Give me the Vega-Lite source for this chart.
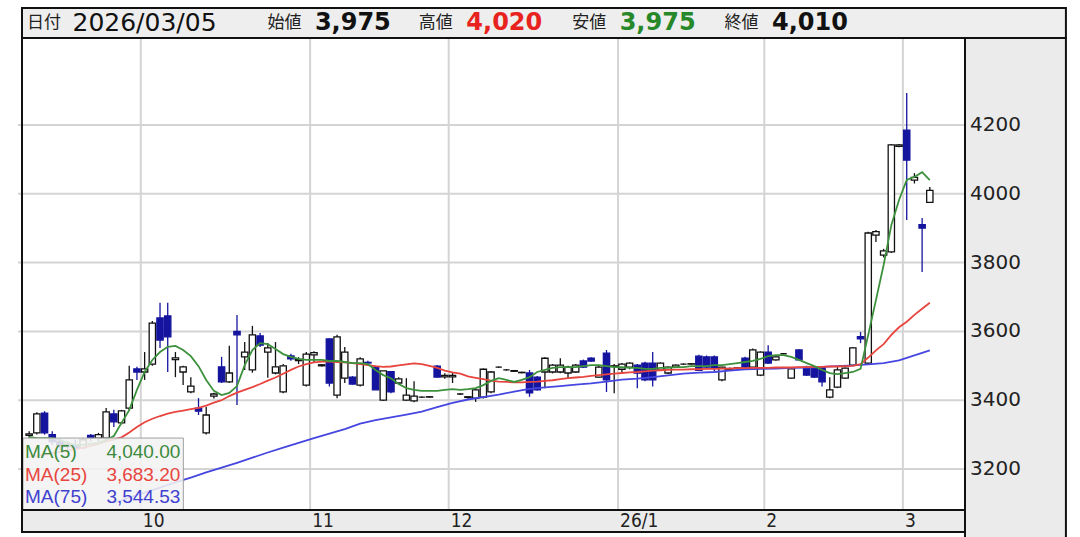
{
"$schema":"https://vega.github.io/schema/vega-lite/v6.json",
"width":952,"height":472,
"autosize":{"type":"none"},
"padding":{"left":18,"top":38,"right":110,"bottom":27},
"background":"white",
"config":{"view":{"stroke":null}},
"datasets":{
"k":[
{"i":-15,"o":3298,"h":3310,"l":3290,"c":3302,"m5":3293,"m25":3235},
{"i":-14,"o":3305,"h":3365,"l":3300,"c":3360,"m5":3290,"m25":3238},
{"i":-13,"o":3362,"h":3368,"l":3300,"c":3305,"m5":3290,"m25":3242},
{"i":-12,"o":3300,"h":3310,"l":3270,"c":3280,"m5":3290,"m25":3246},
{"i":-11,"o":3280,"h":3290,"l":3255,"c":3265,"m5":3284,"m25":3250},
{"i":-10,"o":3265,"h":3280,"l":3250,"c":3272,"m5":3276,"m25":3254},
{"i":-9,"o":3270,"h":3285,"l":3255,"c":3262,"m5":3270,"m25":3258},
{"i":-8,"o":3262,"h":3290,"l":3258,"c":3285,"m5":3270,"m25":3262},
{"i":-7,"o":3298,"h":3302,"l":3280,"c":3290,"m5":3273,"m25":3267},
{"i":-6,"o":3290,"h":3305,"l":3280,"c":3300,"m5":3276,"m25":3273},
{"i":-5,"o":3290,"h":3377,"l":3285,"c":3366,"m5":3284,"m25":3280},
{"i":-4,"o":3360,"h":3372,"l":3322,"c":3337,"m5":3296,"m25":3286,"m75":3102},
{"i":-3,"o":3334,"h":3372,"l":3330,"c":3369,"m5":3334,"m25":3292},
{"i":-2,"o":3377,"h":3500,"l":3370,"c":3459,"m5":3371,"m25":3306,"m75":3117},
{"i":-1,"o":3491,"h":3497,"l":3459,"c":3482,"m5":3430,"m25":3322},
{"i":0,"o":3482,"h":3540,"l":3459,"c":3491,"m5":3482,"m25":3336,"m75":3131},
{"i":1,"o":3505,"h":3630,"l":3500,"c":3624,"m5":3517,"m25":3346},
{"i":2,"o":3639,"h":3683,"l":3552,"c":3575,"m5":3540,"m25":3354,"m75":3146},
{"i":3,"o":3645,"h":3683,"l":3482,"c":3584,"m5":3555,"m25":3361},
{"i":4,"o":3518,"h":3540,"l":3467,"c":3523,"m5":3558,"m25":3366,"m75":3161},
{"i":5,"o":3482,"h":3500,"l":3444,"c":3497,"m5":3546,"m25":3370},
{"i":6,"o":3424,"h":3467,"l":3420,"c":3441,"m5":3528,"m25":3374,"m75":3175},
{"i":7,"o":3377,"h":3406,"l":3357,"c":3368,"m5":3499,"m25":3378},
{"i":8,"o":3305,"h":3380,"l":3300,"c":3357,"m5":3459,"m25":3384,"m75":3190},
{"i":9,"o":3412,"h":3422,"l":3405,"c":3418,"m5":3427,"m25":3393},
{"i":10,"o":3497,"h":3526,"l":3450,"c":3453,"m5":3415,"m25":3400,"m75":3204},
{"i":11,"o":3453,"h":3558,"l":3450,"c":3479,"m5":3421,"m25":3412},
{"i":12,"o":3600,"h":3648,"l":3386,"c":3590,"m5":3441,"m25":3422,"m75":3218},
{"i":13,"o":3526,"h":3569,"l":3488,"c":3540,"m5":3502,"m25":3430},
{"i":14,"o":3488,"h":3616,"l":3480,"c":3590,"m5":3546,"m25":3438,"m75":3233},
{"i":15,"o":3587,"h":3595,"l":3555,"c":3560,"m5":3566,"m25":3447},
{"i":16,"o":3540,"h":3566,"l":3465,"c":3552,"m5":3563,"m25":3457,"m75":3248},
{"i":17,"o":3479,"h":3569,"l":3475,"c":3497,"m5":3549,"m25":3466},
{"i":18,"o":3424,"h":3505,"l":3420,"c":3500,"m5":3534,"m25":3477,"m75":3262},
{"i":19,"o":3529,"h":3535,"l":3515,"c":3520,"m5":3526,"m25":3488},
{"i":20,"o":3515,"h":3525,"l":3505,"c":3518,"m5":3520,"m25":3498,"m75":3276},
{"i":21,"o":3444,"h":3540,"l":3440,"c":3534,"m5":3517,"m25":3505},
{"i":22,"o":3532,"h":3542,"l":3510,"c":3538,"m5":3517,"m25":3510,"m75":3290},
{"i":23,"o":3500,"h":3505,"l":3498,"c":3503,"m5":3517,"m25":3512},
{"i":24,"o":3578,"h":3580,"l":3440,"c":3450,"m5":3514,"m25":3512,"m75":3303},
{"i":25,"o":3415,"h":3590,"l":3406,"c":3584,"m5":3514,"m25":3511},
{"i":26,"o":3464,"h":3555,"l":3450,"c":3540,"m5":3511,"m25":3510,"m75":3316},
{"i":27,"o":3467,"h":3470,"l":3445,"c":3447,"m5":3508,"m25":3508},
{"i":28,"o":3444,"h":3525,"l":3440,"c":3520,"m5":3508,"m25":3505,"m75":3332},
{"i":29,"o":3510,"h":3515,"l":3505,"c":3508,"m5":3505,"m25":3502},
{"i":30,"o":3496,"h":3500,"l":3430,"c":3430,"m5":3488,"m25":3499,"m75":3342},
{"i":31,"o":3400,"h":3485,"l":3398,"c":3485,"m5":3473,"m25":3497},
{"i":32,"o":3483,"h":3485,"l":3420,"c":3424,"m5":3464,"m25":3498,"m75":3350},
{"i":33,"o":3450,"h":3467,"l":3445,"c":3462,"m5":3447,"m25":3501},
{"i":34,"o":3400,"h":3464,"l":3398,"c":3415,"m5":3435,"m25":3504,"m75":3358},
{"i":35,"o":3398,"h":3455,"l":3394,"c":3412,"m5":3430,"m25":3507},
{"i":36,"o":3409,"h":3411,"l":3407,"c":3409,"m5":3427,"m25":3505,"m75":3367},
{"i":37,"o":3409,"h":3411,"l":3407,"c":3410,"m5":3427,"m25":3500},
{"i":38,"o":3499,"h":3502,"l":3466,"c":3467,"m5":3427,"m25":3494,"m75":3380},
{"i":39,"o":3468,"h":3478,"l":3462,"c":3472,"m5":3430,"m25":3486},
{"i":40,"o":3468,"h":3482,"l":3450,"c":3472,"m5":3432,"m25":3481,"m75":3392},
{"i":41,"o":3418,"h":3420,"l":3416,"c":3418,"m5":3430,"m25":3477},
{"i":42,"o":3408,"h":3412,"l":3404,"c":3410,"m5":3432,"m25":3469,"m75":3402},
{"i":43,"o":3406,"h":3435,"l":3395,"c":3430,"m5":3435,"m25":3465},
{"i":44,"o":3409,"h":3492,"l":3405,"c":3490,"m5":3444,"m25":3461,"m75":3409},
{"i":45,"o":3424,"h":3485,"l":3420,"c":3482,"m5":3456,"m25":3457},
{"i":46,"o":3496,"h":3498,"l":3494,"c":3496,"m5":3464,"m25":3454,"m75":3416},
{"i":47,"o":3488,"h":3490,"l":3486,"c":3488,"m5":3459,"m25":3453},
{"i":48,"o":3484,"h":3488,"l":3482,"c":3486,"m5":3453,"m25":3452,"m75":3425},
{"i":49,"o":3480,"h":3483,"l":3478,"c":3481,"m5":3459,"m25":3452},
{"i":50,"o":3479,"h":3488,"l":3410,"c":3421,"m5":3467,"m25":3453,"m75":3433},
{"i":51,"o":3467,"h":3470,"l":3428,"c":3430,"m5":3482,"m25":3454},
{"i":52,"o":3482,"h":3525,"l":3435,"c":3522,"m5":3488,"m25":3456,"m75":3437},
{"i":53,"o":3482,"h":3505,"l":3478,"c":3502,"m5":3494,"m25":3458},
{"i":54,"o":3482,"h":3522,"l":3478,"c":3502,"m5":3496,"m25":3461,"m75":3441},
{"i":55,"o":3479,"h":3500,"l":3462,"c":3496,"m5":3496,"m25":3464},
{"i":56,"o":3482,"h":3505,"l":3480,"c":3502,"m5":3496,"m25":3466,"m75":3445},
{"i":57,"o":3514,"h":3518,"l":3494,"c":3496,"m5":3499,"m25":3468},
{"i":58,"o":3522,"h":3525,"l":3512,"c":3514,"m5":3502,"m25":3471,"m75":3449},
{"i":59,"o":3467,"h":3500,"l":3465,"c":3496,"m5":3502,"m25":3473},
{"i":60,"o":3537,"h":3546,"l":3424,"c":3459,"m5":3499,"m25":3475,"m75":3454},
{"i":61,"o":3498,"h":3505,"l":3420,"c":3500,"m5":3496,"m25":3477},
{"i":62,"o":3490,"h":3508,"l":3480,"c":3505,"m5":3496,"m25":3479,"m75":3460},
{"i":63,"o":3496,"h":3510,"l":3490,"c":3508,"m5":3494,"m25":3481},
{"i":64,"o":3502,"h":3505,"l":3435,"c":3479,"m5":3494,"m25":3482,"m75":3463},
{"i":65,"o":3508,"h":3512,"l":3455,"c":3459,"m5":3491,"m25":3484},
{"i":66,"o":3508,"h":3540,"l":3440,"c":3459,"m5":3491,"m25":3486,"m75":3467},
{"i":67,"o":3487,"h":3510,"l":3485,"c":3508,"m5":3494,"m25":3487},
{"i":68,"o":3479,"h":3498,"l":3476,"c":3496,"m5":3494,"m25":3488,"m75":3472},
{"i":69,"o":3496,"h":3504,"l":3494,"c":3502,"m5":3496,"m25":3489},
{"i":70,"o":3505,"h":3507,"l":3503,"c":3505,"m5":3496,"m25":3489,"m75":3477},
{"i":71,"o":3505,"h":3507,"l":3503,"c":3506,"m5":3499,"m25":3490},
{"i":72,"o":3528,"h":3532,"l":3485,"c":3487,"m5":3499,"m25":3490,"m75":3480},
{"i":73,"o":3526,"h":3530,"l":3490,"c":3496,"m5":3499,"m25":3491},
{"i":74,"o":3526,"h":3530,"l":3485,"c":3493,"m5":3502,"m25":3491,"m75":3482},
{"i":75,"o":3459,"h":3497,"l":3455,"c":3496,"m5":3502,"m25":3492},
{"i":76,"o":3490,"h":3495,"l":3486,"c":3492,"m5":3505,"m25":3492,"m75":3486},
{"i":77,"o":3492,"h":3496,"l":3488,"c":3494,"m5":3508,"m25":3493},
{"i":78,"o":3522,"h":3526,"l":3494,"c":3496,"m5":3511,"m25":3493,"m75":3490},
{"i":79,"o":3496,"h":3550,"l":3494,"c":3546,"m5":3514,"m25":3494},
{"i":80,"o":3473,"h":3542,"l":3470,"c":3540,"m5":3520,"m25":3494,"m75":3491},
{"i":81,"o":3540,"h":3560,"l":3505,"c":3508,"m5":3528,"m25":3494},
{"i":82,"o":3517,"h":3528,"l":3515,"c":3526,"m5":3531,"m25":3495,"m75":3492},
{"i":83,"o":3535,"h":3537,"l":3533,"c":3535,"m5":3531,"m25":3495},
{"i":84,"o":3464,"h":3495,"l":3462,"c":3491,"m5":3526,"m25":3495,"m75":3494},
{"i":85,"o":3546,"h":3548,"l":3515,"c":3517,"m5":3517,"m25":3496},
{"i":86,"o":3496,"h":3500,"l":3470,"c":3473,"m5":3508,"m25":3496,"m75":3495},
{"i":87,"o":3493,"h":3495,"l":3465,"c":3467,"m5":3499,"m25":3497},
{"i":88,"o":3496,"h":3498,"l":3440,"c":3453,"m5":3488,"m25":3497,"m75":3497},
{"i":89,"o":3409,"h":3467,"l":3406,"c":3430,"m5":3479,"m25":3498},
{"i":90,"o":3438,"h":3500,"l":3435,"c":3488,"m5":3476,"m25":3498,"m75":3499},
{"i":91,"o":3464,"h":3495,"l":3462,"c":3493,"m5":3479,"m25":3499},
{"i":92,"o":3502,"h":3555,"l":3500,"c":3552,"m5":3482,"m25":3500,"m75":3501},
{"i":93,"o":3585,"h":3598,"l":3566,"c":3578,"m5":3491,"m25":3505},
{"i":94,"o":3508,"h":3890,"l":3505,"c":3886,"m5":3590,"m25":3524,"m75":3504},
{"i":95,"o":3880,"h":3895,"l":3860,"c":3890,"m5":3691,"m25":3545},
{"i":96,"o":3822,"h":3840,"l":3815,"c":3834,"m5":3793,"m25":3563,"m75":3508},
{"i":97,"o":3831,"h":4145,"l":3828,"c":4142,"m5":3909,"m25":3590},
{"i":98,"o":4138,"h":4145,"l":4135,"c":4142,"m5":3982,"m25":3612,"m75":3516},
{"i":99,"o":4185,"h":4293,"l":3924,"c":4098,"m5":4040,"m25":3628},
{"i":100,"o":4040,"h":4060,"l":4030,"c":4048,"m5":4049,"m25":3648,"m75":3530},
{"i":101,"o":3910,"h":3930,"l":3773,"c":3900,"m5":4063,"m25":3666},
{"i":102,"o":3975,"h":4020,"l":3975,"c":4010,"m5":4040,"m25":3683.2,"m75":3544.53}
],
"hdr":[{"k":"日付","v":"2026/03/05"},{"k":"始値","v":"3,975"},{"k":"高値","v":"4,020"},{"k":"安値","v":"3,975"},{"k":"終値","v":"4,010"}],
"leg":[{"n":"MA(5)","v":"4,040.00"},{"n":"MA(25)","v":"3,683.20"},{"n":"MA(75)","v":"3,544.53"}],
"gy":[{"v":3200},{"v":3400},{"v":3600},{"v":3800},{"v":4000},{"v":4200}],
"gx":[{"v":-0.5,"lab":"10"},{"v":21.5,"lab":"11"},{"v":39.5,"lab":"12"},{"v":61.5,"lab":"26/1"},{"v":80.5,"lab":"2"},{"v":98.5,"lab":"3"}],
"one":[{"z":1}]
},
"layer":[
{"data":{"name":"gy"},"mark":{"type":"rule","color":"#d4d4d4","strokeWidth":2},"encoding":{"y":{"field":"v","type":"quantitative","axis":null}}},
{"data":{"name":"gx"},"mark":{"type":"rule","color":"#d4d4d4","strokeWidth":2},"encoding":{"x":{"field":"v","type":"quantitative","axis":null}}},
{"data":{"name":"k"},"mark":{"type":"rule","strokeWidth":1.3},"encoding":{"x":{"field":"i","type":"quantitative","axis":null},"y":{"field":"l","type":"quantitative","axis":null},"y2":{"field":"h"},"color":{"condition":{"test":"datum.c>=datum.o","value":"#111111"},"value":"#14149e"}}},
{"data":{"name":"k"},"mark":{"type":"bar","size":6.3,"strokeWidth":1.3},"encoding":{
"x":{"field":"i","type":"quantitative","scale":{"domain":[-15.8,106.57],"nice":false,"zero":false},"axis":null},
"y":{"field":"o","type":"quantitative","scale":{"domain":[3080.8,4452.9],"nice":false,"zero":false},"axis":null},
"y2":{"field":"c"},
"fill":{"condition":{"test":"datum.c>=datum.o","value":"#ffffff"},"value":"#14149e"},
"stroke":{"condition":{"test":"datum.c>=datum.o","value":"#111111"},"value":"#14149e"}}},
{"data":{"name":"k"},"transform":[{"filter":"isValid(datum.m75)"}],"mark":{"type":"line","color":"#4646e0","strokeWidth":1.8,"clip":true},"encoding":{"x":{"field":"i","type":"quantitative","axis":null},"y":{"field":"m75","type":"quantitative","axis":null}}},
{"data":{"name":"k"},"mark":{"type":"line","color":"#e8453e","strokeWidth":1.8,"clip":true},"encoding":{"x":{"field":"i","type":"quantitative","axis":null},"y":{"field":"m25","type":"quantitative","axis":null}}},
{"data":{"name":"k"},"mark":{"type":"line","color":"#3c913c","strokeWidth":1.8,"clip":true},"encoding":{"x":{"field":"i","type":"quantitative","axis":null},"y":{"field":"m5","type":"quantitative","axis":null}}},
{"data":{"name":"one"},"mark":{"type":"rect","fill":"#f3f3f3","fillOpacity":0.88,"stroke":"#a0a0a0","strokeWidth":1},"encoding":{"x":{"datum":-15.8,"axis":null},"x2":{"datum":5.03},"y":{"datum":3080.8,"axis":null},"y2":{"datum":3290}}},
{"data":{"name":"leg"},"transform":[{"filter":"datum.n=='MA(5)'"}],"mark":{"type":"text","align":"left","baseline":"middle","font":"Liberation Sans","fontSize":19,"color":"#3c8a3c"},"encoding":{"x":{"datum":-15.54,"axis":null},"y":{"datum":3249.4,"axis":null},"text":{"field":"n"}}},
{"data":{"name":"leg"},"transform":[{"filter":"datum.n=='MA(5)'"}],"mark":{"type":"text","align":"right","baseline":"middle","font":"Liberation Sans","fontSize":19,"color":"#3c8a3c"},"encoding":{"x":{"datum":4.64,"axis":null},"y":{"datum":3249.4,"axis":null},"text":{"field":"v"}}},
{"data":{"name":"leg"},"transform":[{"filter":"datum.n=='MA(25)'"}],"mark":{"type":"text","align":"left","baseline":"middle","font":"Liberation Sans","fontSize":19,"color":"#e8453e"},"encoding":{"x":{"datum":-15.54,"axis":null},"y":{"datum":3182.6,"axis":null},"text":{"field":"n"}}},
{"data":{"name":"leg"},"transform":[{"filter":"datum.n=='MA(25)'"}],"mark":{"type":"text","align":"right","baseline":"middle","font":"Liberation Sans","fontSize":19,"color":"#e8453e"},"encoding":{"x":{"datum":4.64,"axis":null},"y":{"datum":3182.6,"axis":null},"text":{"field":"v"}}},
{"data":{"name":"leg"},"transform":[{"filter":"datum.n=='MA(75)'"}],"mark":{"type":"text","align":"left","baseline":"middle","font":"Liberation Sans","fontSize":19,"color":"#4040d0"},"encoding":{"x":{"datum":-15.54,"axis":null},"y":{"datum":3118.6,"axis":null},"text":{"field":"n"}}},
{"data":{"name":"leg"},"transform":[{"filter":"datum.n=='MA(75)'"}],"mark":{"type":"text","align":"right","baseline":"middle","font":"Liberation Sans","fontSize":19,"color":"#4040d0"},"encoding":{"x":{"datum":4.64,"axis":null},"y":{"datum":3118.6,"axis":null},"text":{"field":"v"}}},
{"data":{"name":"one"},"mark":{"type":"rect","fill":"#eeeeee","stroke":"#111111","strokeWidth":2},"encoding":{"x":{"datum":-15.93,"axis":null},"x2":{"datum":119.68},"y":{"datum":4452.9,"axis":null},"y2":{"datum":4540.1}}},
{"data":{"name":"one"},"mark":{"type":"rect","fill":"#ebebeb","stroke":"#111111","strokeWidth":2},"encoding":{"x":{"datum":106.57,"axis":null},"x2":{"datum":119.68},"y":{"datum":2979,"axis":null},"y2":{"datum":4452.9}}},
{"data":{"name":"one"},"mark":{"type":"rect","fill":"#ebebeb","stroke":"#111111","strokeWidth":2},"encoding":{"x":{"datum":-15.93,"axis":null},"x2":{"datum":106.57},"y":{"datum":3016.9,"axis":null},"y2":{"datum":3080.8}}},
{"data":{"name":"one"},"mark":{"type":"rect","fillOpacity":0,"stroke":"#111111","strokeWidth":2},"encoding":{"x":{"datum":-15.93,"axis":null},"x2":{"datum":106.57},"y":{"datum":3080.8,"axis":null},"y2":{"datum":4452.9}}},
{"data":{"name":"gy"},"mark":{"type":"text","align":"left","baseline":"middle","dx":5,"font":"DejaVu Sans","fontSize":20,"color":"#222222"},"encoding":{"x":{"datum":106.57,"axis":null},"y":{"field":"v","type":"quantitative","axis":null},"text":{"field":"v","type":"quantitative","format":"d"}}},
{"data":{"name":"gx"},"mark":{"type":"text","align":"left","baseline":"middle","dx":2,"font":"Liberation Sans Narrow, DejaVu Sans Condensed, Liberation Sans","fontSize":19,"color":"#222222"},"encoding":{"x":{"field":"v","type":"quantitative","axis":null},"y":{"datum":3048.9,"axis":null},"text":{"field":"lab"}}},
{"data":{"name":"hdr"},"transform":[{"filter":"datum.k=='日付'"}],"mark":{"type":"text","align":"left","baseline":"middle","font":"Noto Sans CJK JP","fontSize":17,"color":"#222222"},"encoding":{"x":{"datum":-15.28,"axis":null},"y":{"datum":4496.5,"axis":null},"text":{"field":"k"}}},
{"data":{"name":"hdr"},"transform":[{"filter":"datum.k=='日付'"}],"mark":{"type":"text","align":"left","baseline":"middle","font":"DejaVu Sans","fontSize":25,"color":"#111111"},"encoding":{"x":{"datum":-9.37,"axis":null},"y":{"datum":4496.5,"axis":null},"text":{"field":"v"}}},
{"data":{"name":"hdr"},"transform":[{"filter":"datum.k=='始値'"}],"mark":{"type":"text","align":"left","baseline":"middle","font":"Noto Sans CJK JP","fontSize":17,"color":"#222222"},"encoding":{"x":{"datum":15.95,"axis":null},"y":{"datum":4496.5,"axis":null},"text":{"field":"k"}}},
{"data":{"name":"hdr"},"transform":[{"filter":"datum.k=='始値'"}],"mark":{"type":"text","align":"left","baseline":"middle","font":"DejaVu Sans","fontWeight":"bold","fontSize":24,"color":"#111111"},"encoding":{"x":{"datum":22.12,"axis":null},"y":{"datum":4496.5,"axis":null},"text":{"field":"v"}}},
{"data":{"name":"hdr"},"transform":[{"filter":"datum.k=='高値'"}],"mark":{"type":"text","align":"left","baseline":"middle","font":"Noto Sans CJK JP","fontSize":17,"color":"#222222"},"encoding":{"x":{"datum":35.62,"axis":null},"y":{"datum":4496.5,"axis":null},"text":{"field":"k"}}},
{"data":{"name":"hdr"},"transform":[{"filter":"datum.k=='高値'"}],"mark":{"type":"text","align":"left","baseline":"middle","font":"DejaVu Sans","fontWeight":"bold","fontSize":24,"color":"#e8231e"},"encoding":{"x":{"datum":41.79,"axis":null},"y":{"datum":4496.5,"axis":null},"text":{"field":"v"}}},
{"data":{"name":"hdr"},"transform":[{"filter":"datum.k=='安値'"}],"mark":{"type":"text","align":"left","baseline":"middle","font":"Noto Sans CJK JP","fontSize":17,"color":"#222222"},"encoding":{"x":{"datum":55.54,"axis":null},"y":{"datum":4496.5,"axis":null},"text":{"field":"k"}}},
{"data":{"name":"hdr"},"transform":[{"filter":"datum.k=='安値'"}],"mark":{"type":"text","align":"left","baseline":"middle","font":"DejaVu Sans","fontWeight":"bold","fontSize":24,"color":"#27882a"},"encoding":{"x":{"datum":61.71,"axis":null},"y":{"datum":4496.5,"axis":null},"text":{"field":"v"}}},
{"data":{"name":"hdr"},"transform":[{"filter":"datum.k=='終値'"}],"mark":{"type":"text","align":"left","baseline":"middle","font":"Noto Sans CJK JP","fontSize":17,"color":"#222222"},"encoding":{"x":{"datum":75.34,"axis":null},"y":{"datum":4496.5,"axis":null},"text":{"field":"k"}}},
{"data":{"name":"hdr"},"transform":[{"filter":"datum.k=='終値'"}],"mark":{"type":"text","align":"left","baseline":"middle","font":"DejaVu Sans","fontWeight":"bold","fontSize":24,"color":"#111111"},"encoding":{"x":{"datum":81.5,"axis":null},"y":{"datum":4496.5,"axis":null},"text":{"field":"v"}}}
]
}
